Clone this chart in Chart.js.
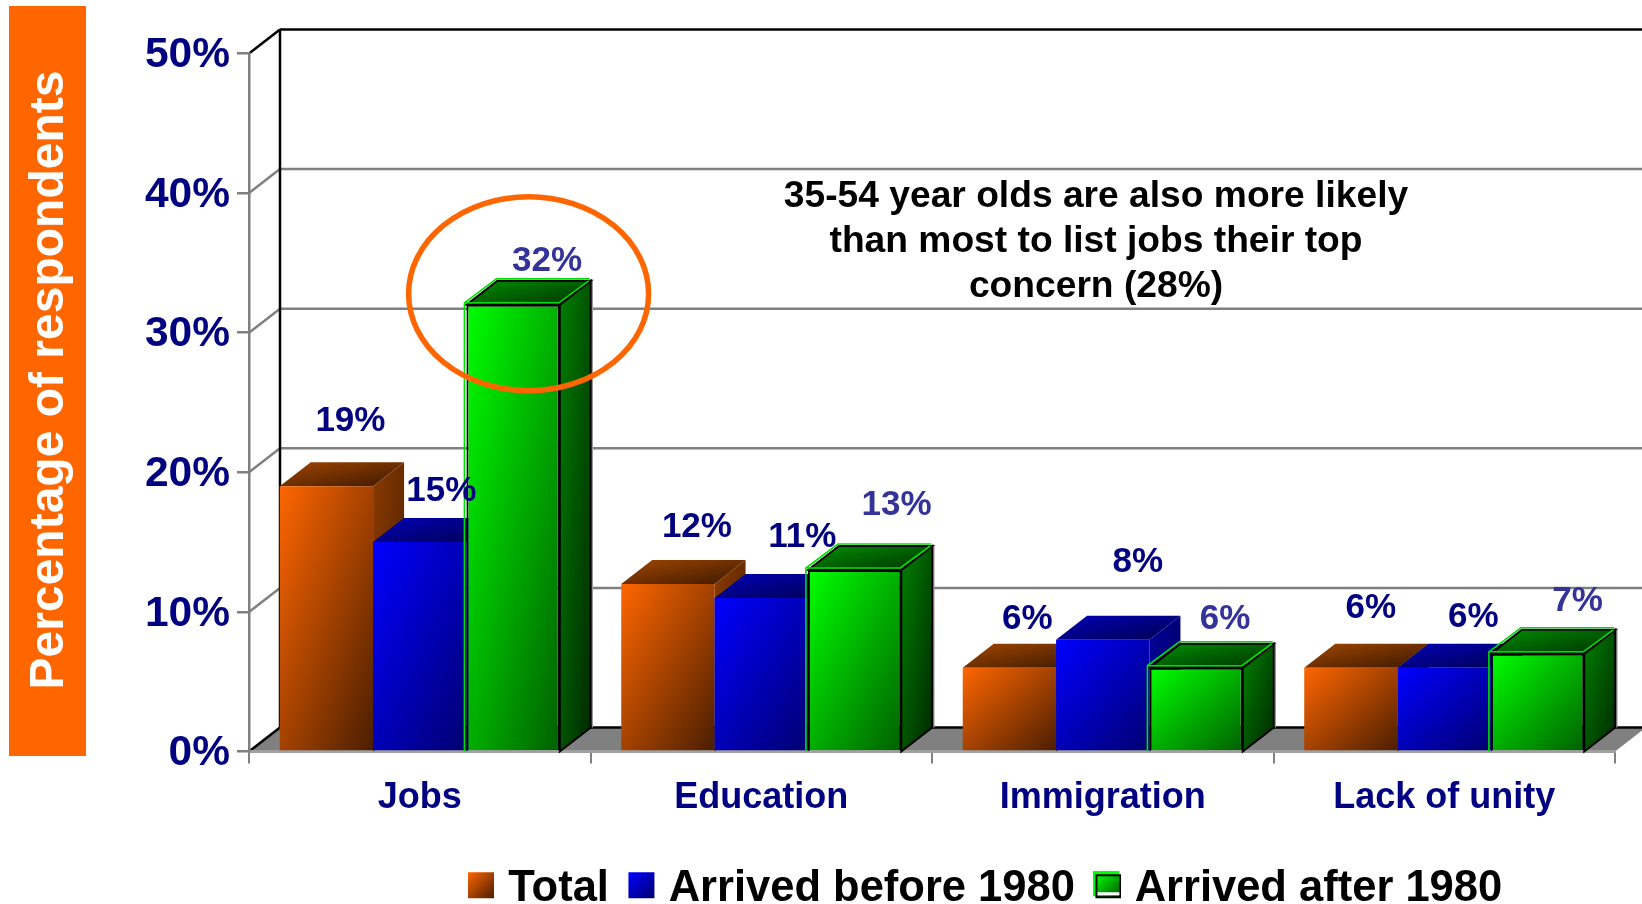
<!DOCTYPE html>
<html><head><meta charset="utf-8">
<style>html,body{margin:0;padding:0;background:#fff}canvas{display:block}</style>
<script src="https://cdn.jsdelivr.net/npm/chart.js@4"></script>
</head><body><canvas id="c" width="1642" height="904"></canvas>
<script>
const categories = ['Jobs','Education','Immigration','Lack of unity'];
const totalValues = [19,12,6,6];
const beforeValues = [15,11,8,6];
const afterValues = [32,13,6,7];
const seriesNames = ['Total','Arrived before 1980','Arrived after 1980'];
const axisTicks = [0,10,20,30,40,50];
const noteLines = ['35-54 year olds are also more likely','than most to list jobs their top','concern (28%)'];
const yAxisTitle = 'Percentage of respondents';

// label offsets from each bar's top centre (the original places them by hand)
const labelNudges = [
  [[24,-65],[29,-57],[18,-48],[20,-59]],
  [[21.5,-51],[41,-61],[35,-77],[29,-50]],
  [[34,-43],[42,-65],[29,-48],[40,-52]]
];
const palette = [
  {front:['#FF6600','#4A1E00'],side:['#8A3A00','#4A1E00'],top:['#A04600','#3C1800'],label:'#000080'},
  {front:['#0000FF','#000070'],side:['#0000A0','#000050'],top:['#0000B8','#000050'],label:'#000080'},
  {front:['#00FF00','#006000'],side:['#008000','#002800'],top:['#009000','#003000'],label:'#333399'}
];
const DX=31, DY=-24, GRAY='#808080', FONT='"Liberation Sans", Arial, sans-serif';

// corner-to-corner shade: the mid colour runs along the opposite diagonal of the box
function grad(ctx,l,t,r,b,cols){
  const w=r-l,h=b-t,L2=w*w+h*h,cx=(l+r)/2,cy=(t+b)/2,k=w*h/L2;
  const g=ctx.createLinearGradient(cx-h*k,cy-w*k,cx+h*k,cy+w*k);
  g.addColorStop(0,cols[0]);g.addColorStop(1,cols[1]);return g;
}
function poly(ctx,pts){ctx.beginPath();pts.forEach((p,i)=>i?ctx.lineTo(p[0],p[1]):ctx.moveTo(p[0],p[1]));ctx.closePath();}
function line(ctx,x0,y0,x1,y1,col,w){ctx.strokeStyle=col;ctx.lineWidth=w;ctx.beginPath();ctx.moveTo(x0,y0);ctx.lineTo(x1,y1);ctx.stroke();}

function swatch(i){
  const s=document.createElement('canvas');s.width=28;s.height=36;
  const c=s.getContext('2d');
  if(i<2){c.fillStyle=grad(c,1,1,27,27,palette[i].front);c.fillRect(1,1,26,26);}
  else{
    c.fillStyle='#00FF00';c.fillRect(0,0,26,25);
    c.fillStyle=grad(c,3,3,26,24,palette[2].front);c.fillRect(2,3,24,22);
    c.strokeStyle='#000';c.lineWidth=2;c.strokeRect(3,4,24,22);
    c.fillStyle='#fff';c.fillRect(4,21,22,3);
  }
  return s;
}

const scene={
  id:'scene',
  afterLayout(chart){
    const l=chart.legend;
    l.left=475.5-l.options.labels.padding; l.right=1642;
    l.top=867.5-l.options.labels.padding; l.bottom=904;
  },
  beforeDraw(chart){
    const {ctx,scales:{x,y},chartArea:a}=chart;
    ctx.save();
    ctx.fillStyle='#FF6600';ctx.fillRect(9,6,77,750);
    const y0=y.getPixelForValue(0);
    poly(ctx,[[a.left,y0],[a.left+DX,y0+DY],[a.right+DX,y0+DY],[a.right,y0]]);
    ctx.fillStyle=GRAY;ctx.fill();
    axisTicks.forEach(t=>{
      const py=y.getPixelForValue(t);
      if(t===0||t===50){
        line(ctx,a.left,py,a.left+DX,py+DY,'#000',2.5);
        line(ctx,a.left+DX,py+DY,a.right+DX,py+DY,'#000',2.5);
      }else{
        line(ctx,a.left,py,a.left+DX,py+DY,GRAY,2.5);
        line(ctx,a.left+DX,py+DY,a.right+DX,py+DY,GRAY,2.5);
      }
    });
    line(ctx,a.left+DX,y.getPixelForValue(50)+DY,a.left+DX,y0+DY,'#000',2.5);
    ctx.restore();
  },
  beforeDatasetsDraw(chart){
    const {ctx,scales:{y}}=chart;
    const y0=y.getPixelForValue(0);
    [0,1,2].forEach(d=>{
      const meta=chart.getDatasetMeta(d),pal=palette[d];
      meta.data.forEach(bar=>{
        const w=bar.width,l=bar.x-w/2,r=bar.x+w/2,t=bar.y,b=y0;
        ctx.save();
        if(d===2) line(ctx,r+DX+1.5,t+DY,r+DX+1.5,b+DY,'#9a9a9a',1.5);
        poly(ctx,[[r,t],[r+DX,t+DY],[r+DX,b+DY],[r,b]]);
        ctx.fillStyle=grad(ctx,r,t+DY,r+DX,b,pal.side);ctx.fill();
        if(d===2){ctx.strokeStyle='#000';ctx.lineWidth=2;ctx.stroke();}
        poly(ctx,[[l,t],[l+DX,t+DY],[r+DX,t+DY],[r,t]]);
        ctx.fillStyle=grad(ctx,l,t+DY,r+DX,t,pal.top);ctx.fill();
        if(d===2){
          ctx.strokeStyle='#000';ctx.lineWidth=2;ctx.stroke();
          ctx.beginPath();ctx.moveTo(l-2,b);ctx.lineTo(l-2,t-2);ctx.lineTo(l+DX-1,t+DY-2);ctx.lineTo(r+DX-1,t+DY-2);
          ctx.moveTo(l-2,t-2);ctx.lineTo(r-1,t-2);ctx.lineTo(r+DX-2,t+DY);
          ctx.strokeStyle='#00E000';ctx.lineWidth=1.6;ctx.stroke();
        }
        bar.options=Object.assign({},bar.options,{backgroundColor:grad(ctx,l,t,r,b,pal.front)});
        bar.draw(ctx);
        ctx.restore();
      });
    });
    return false;
  },
  afterDraw(chart){
    const {ctx,scales:{x,y}}=chart;
    ctx.save();
    // data labels
    ctx.textAlign='center';ctx.textBaseline='middle';ctx.font='bold 35px '+FONT;
    [0,1,2].forEach(d=>{
      chart.getDatasetMeta(d).data.forEach((bar,i)=>{
        const n=labelNudges[d][i];
        ctx.fillStyle=palette[d].label;
        ctx.fillText(chart.data.datasets[d].data[i]+'%',bar.x+n[0],bar.y+n[1]);
      });
    });
    // circled highlight round the tallest bar
    const hi=chart.getDatasetMeta(2).data[0];
    ctx.strokeStyle='#FF6600';ctx.lineWidth=5.5;
    ctx.beginPath();ctx.ellipse(hi.x+15.5,hi.y-11,120,97,0,0,Math.PI*2);ctx.stroke();
    // note
    ctx.fillStyle='#000';ctx.font='bold 37.2px '+FONT;
    noteLines.forEach((t,i)=>ctx.fillText(t,1096,y.getPixelForValue(40)+4+i*45));
    // rotated axis title
    ctx.save();
    ctx.translate(50,380);ctx.rotate(-Math.PI/2);
    ctx.fillStyle='#fff';ctx.font='bold 48px '+FONT;
    ctx.fillText(yAxisTitle,0,0);
    ctx.restore();
    ctx.restore();
  }
};

new Chart(document.getElementById('c'),{
  type:'bar',
  plugins:[scene],
  data:{
    labels:categories,
    datasets:[
      {label:seriesNames[0],data:totalValues,backgroundColor:'#FF6600'},
      {label:seriesNames[1],data:beforeValues,backgroundColor:'#0000FF'},
      {label:seriesNames[2],data:afterValues,backgroundColor:'#00FF00',borderColor:'#000',borderWidth:2}
    ]
  },
  options:{
    responsive:false,animation:false,
    layout:{padding:{left:0,right:27,top:53.5,bottom:0}},
    datasets:{bar:{categoryPercentage:0.82,barPercentage:1}},
    plugins:{
      tooltip:{enabled:false},
      title:{display:false},
      legend:{
        position:'bottom',align:'start',
        labels:{
          font:{family:FONT,size:43.5,weight:'bold'},color:'#000',
          usePointStyle:true,boxWidth:11,boxHeight:11,padding:27,
          generateLabels:()=>seriesNames.map((n,i)=>({text:n,pointStyle:swatch(i),datasetIndex:i,hidden:false,fontColor:'#000',lineWidth:0}))
        }
      }
    },
    scales:{
      x:{
        grid:{drawOnChartArea:false,color:GRAY,tickColor:GRAY,tickLength:12,lineWidth:2},
        border:{color:'#A0A0A0',width:3},
        ticks:{color:'#000080',font:{family:FONT,size:36,weight:'bold'},padding:13,maxRotation:0},
        afterFit(s){s.height=72;}
      },
      y:{
        min:0,max:50,
        grid:{drawOnChartArea:false,color:GRAY,tickColor:GRAY,tickLength:12,lineWidth:2.5},
        border:{color:GRAY,width:2.5},
        ticks:{stepSize:10,color:'#000080',font:{family:FONT,size:42.5,weight:'bold'},padding:7,labelOffset:2,callback:v=>v+'%'},
        afterFit(s){s.width=249;}
      }
    }
  }
});
</script></body></html>
